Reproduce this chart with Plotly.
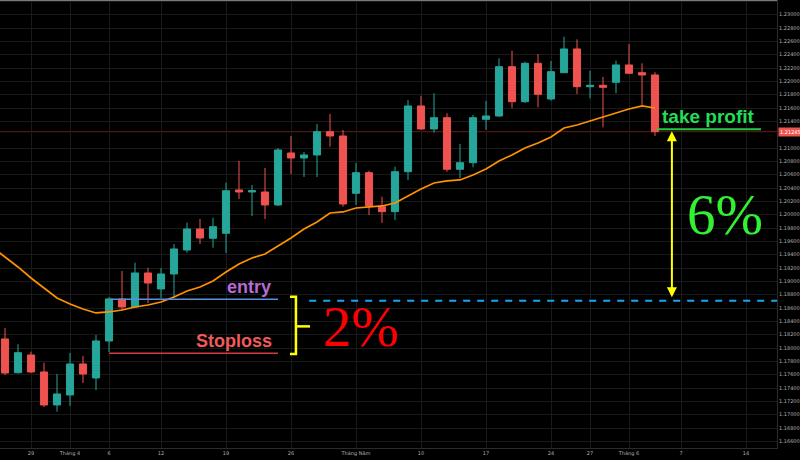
import plotly.graph_objects as go
import pandas as pd

# ---------------- data (EUR/USD daily) ----------------
dates = ["2021-03-25", "2021-03-26", "2021-03-29", "2021-03-30", "2021-03-31",
         "2021-04-01", "2021-04-02", "2021-04-05", "2021-04-06", "2021-04-07",
         "2021-04-08", "2021-04-09", "2021-04-12", "2021-04-13", "2021-04-14",
         "2021-04-15", "2021-04-16", "2021-04-19", "2021-04-20", "2021-04-21",
         "2021-04-22", "2021-04-23", "2021-04-26", "2021-04-27", "2021-04-28",
         "2021-04-29", "2021-04-30", "2021-05-03", "2021-05-04", "2021-05-05",
         "2021-05-06", "2021-05-07", "2021-05-10", "2021-05-11", "2021-05-12",
         "2021-05-13", "2021-05-14", "2021-05-17", "2021-05-18", "2021-05-19",
         "2021-05-20", "2021-05-21", "2021-05-24", "2021-05-25", "2021-05-26",
         "2021-05-27", "2021-05-28", "2021-05-31", "2021-06-01", "2021-06-02",
         "2021-06-03"]

open_ = [1.18136, 1.17630, 1.17896, 1.17641, 1.17146, 1.17296, 1.17761, 1.17551, 1.18106, 1.18736,
         1.18616, 1.19126, 1.18886, 1.19111, 1.19471, 1.19786, 1.19646, 1.19721, 1.20371, 1.20341,
         1.20341, 1.20146, 1.20926, 1.20851, 1.20896, 1.21245, 1.21181, 1.20321, 1.20630, 1.20120,
         1.20045, 1.20645, 1.21631, 1.21286, 1.21455, 1.20681, 1.20780, 1.21431, 1.21481, 1.22220,
         1.21695, 1.22271, 1.21736, 1.22130, 1.22486, 1.21920, 1.21941, 1.21986, 1.22246, 1.22130,
         1.22096]
high = [1.18300, 1.18056, 1.17945, 1.17780, 1.17611, 1.17926, 1.17881, 1.18196, 1.18766, 1.19156,
        1.19280, 1.19205, 1.19200, 1.19561, 1.19880, 1.19936, 1.19955, 1.20480, 1.20806, 1.20446,
        1.20701, 1.21001, 1.21181, 1.20941, 1.21361, 1.21511, 1.21271, 1.20776, 1.20660, 1.20270,
        1.20720, 1.21721, 1.21785, 1.21821, 1.21521, 1.21061, 1.21496, 1.21706, 1.22346, 1.22460,
        1.22295, 1.22411, 1.22306, 1.22670, 1.22631, 1.22160, 1.22066, 1.22310, 1.22561, 1.22271,
        1.22136]
low = [1.17596, 1.17618, 1.17626, 1.17116, 1.17045, 1.17131, 1.17476, 1.17371, 1.17941, 1.18571,
       1.18608, 1.18676, 1.18751, 1.18751, 1.19430, 1.19561, 1.19505, 1.19426, 1.20236, 1.19981,
       1.19936, 1.20131, 1.20611, 1.20566, 1.20566, 1.21020, 1.20120, 1.20146, 1.19996, 1.19876,
       1.19921, 1.20521, 1.21271, 1.21230, 1.20645, 1.20551, 1.20711, 1.21271, 1.21466, 1.21596,
       1.21676, 1.21611, 1.21711, 1.22126, 1.21811, 1.21746, 1.21311, 1.21821, 1.22111, 1.21646,
       1.21181]
close = [1.17626, 1.17930, 1.17641, 1.17146, 1.17311, 1.17761, 1.17611, 1.18106, 1.18736, 1.18616,
         1.19126, 1.18976, 1.19111, 1.19486, 1.19786, 1.19651, 1.19820, 1.20360, 1.20341, 1.20360,
         1.20146, 1.20971, 1.20851, 1.20896, 1.21245, 1.21181, 1.20161, 1.20630, 1.20131, 1.20045,
         1.20645, 1.21631, 1.21286, 1.21455, 1.20681, 1.20780, 1.21455, 1.21481, 1.22220, 1.21695,
         1.22271, 1.21806, 1.22145, 1.22486, 1.21920, 1.21941, 1.21911, 1.22246, 1.22121, 1.22096,
         1.21245]

# moving average (orange), first value belongs to the trading day before dates[0]
ma_values = [1.19516, 1.19366, 1.19216, 1.19051, 1.18901, 1.18751, 1.18661, 1.18586, 1.18526, 1.18541,
             1.18571, 1.18616, 1.18646, 1.18691, 1.18766, 1.18856, 1.18916, 1.19006, 1.19141, 1.19261,
             1.19351, 1.19411, 1.19531, 1.19651, 1.19786, 1.19891, 1.20026, 1.20041, 1.20101, 1.20116,
             1.20131, 1.20176, 1.20281, 1.20386, 1.20476, 1.20506, 1.20521, 1.20596, 1.20686, 1.20806,
             1.20896, 1.21001, 1.21076, 1.21166, 1.21301, 1.21346, 1.21406, 1.21466, 1.21526, 1.21586,
             1.21631, 1.21601]

tick_dates = ["2021-03-29", "2021-04-01", "2021-04-06", "2021-04-12", "2021-04-19", "2021-04-26",
              "2021-05-03", "2021-05-10", "2021-05-17", "2021-05-24", "2021-05-27", "2021-06-01",
              "2021-06-07", "2021-06-14"]
tick_text = ["29", "Tháng 4", "6", "12", "19", "26", "Tháng Năm", "10", "17", "24", "27",
             "Tháng 6", "7", "14"]

price_ticks = [1.166, 1.168, 1.170, 1.172, 1.174, 1.176, 1.178, 1.180, 1.182, 1.184, 1.186,
               1.188, 1.190, 1.192, 1.194, 1.196, 1.198, 1.200, 1.202, 1.204, 1.206, 1.208,
               1.210, 1.214, 1.216, 1.218, 1.220, 1.222, 1.224, 1.226, 1.228, 1.230, 1.232]

entry_level = 1.18730
stoploss_level = 1.17920
take_profit_level = 1.21280
last_price = 1.21245

# ---------------- helpers ----------------
calendar = list(pd.bdate_range("2021-03-24", "2021-06-25").strftime("%Y-%m-%d"))
base = calendar.index(dates[0])
x_idx = [calendar.index(d) - base for d in dates]
ma_x = list(range(x_idx[0] - 1, x_idx[-1] + 1))
tick_vals = [calendar.index(d) - base for d in tick_dates]

TEAL = "#26a69a"
RED = "#ef5350"
GRID = "#1a1a1a"
X0, X1 = -0.385, 59.385
Y0, Y1 = 1.165005, 1.232205

fig = go.Figure()
fig.add_trace(go.Candlestick(
    x=x_idx, open=open_, high=high, low=low, close=close,
    increasing=dict(line=dict(color=TEAL, width=1), fillcolor=TEAL),
    decreasing=dict(line=dict(color=RED, width=1), fillcolor=RED),
    whiskerwidth=0, hoverinfo="skip"))
fig.add_trace(go.Scatter(x=ma_x, y=ma_values, mode="lines",
                         line=dict(color="#ff9200", width=1.7), hoverinfo="skip"))

shapes = [
    # last price line
    dict(type="line", xref="paper", x0=0, x1=1, yref="y", y0=last_price, y1=last_price,
         line=dict(color="#6b1c1c", width=1), layer="below"),
    # entry line
    dict(type="line", x0=8.1, x1=21.0, y0=entry_level, y1=entry_level,
         line=dict(color="#5b8fdc", width=1.5)),
    # stoploss line
    dict(type="line", x0=8.0, x1=21.0, y0=stoploss_level, y1=stoploss_level,
         line=dict(color="#d63a3a", width=1.5)),
    # dashed entry extension
    dict(type="line", x0=23.4, x1=X1, y0=entry_level - 0.0002, y1=entry_level - 0.0002,
         line=dict(color="#1ea4ea", width=2, dash="7px,7px")),
    # take profit line
    dict(type="line", x0=50.15, x1=58.15, y0=take_profit_level, y1=take_profit_level,
         line=dict(color="#22cc44", width=2)),
    # yellow bracket
    dict(type="path",
         path=f"M 21.92 {entry_level + 0.0004} L 22.38 {entry_level + 0.0004} "
              f"L 22.38 {stoploss_level - 0.0001} L 21.92 {stoploss_level - 0.0001}",
         line=dict(color="#ffff00", width=2.5)),
    dict(type="line", x0=22.38, x1=23.46,
         y0=(entry_level + stoploss_level) / 2, y1=(entry_level + stoploss_level) / 2,
         line=dict(color="#ffff00", width=2.5)),
    # top border
    dict(type="line", xref="paper", yref="paper", x0=0, x1=1, y0=1, y1=1,
         line=dict(color="#7a7a7a", width=2)),
]

annotations = [
    dict(x=18.77, y=1.18916, text="<b>entry</b>", showarrow=False,
         font=dict(family="Liberation Sans, Arial", size=18, color="#b96ad4")),
    dict(x=17.65, y=1.18110, text="<b>Stoploss</b>", showarrow=False,
         font=dict(family="Liberation Sans, Arial", size=18, color="#ef5a5a")),
    dict(x=54.15, y=1.21466, text="<b>take profit</b>", showarrow=False,
         font=dict(family="Liberation Sans, Arial", size=19, color="#22dd55")),
    dict(x=27.42, y=1.18316, text="2%", showarrow=False,
         font=dict(family="Liberation Serif, Times New Roman", size=57, color="#ff0000")),
    dict(x=55.35, y=1.19996, text="6%", showarrow=False,
         font=dict(family="Liberation Serif, Times New Roman", size=57, color="#33f033")),
    # double-headed arrow
    dict(x=51.3, y=take_profit_level - 0.0003, ax=51.3, ay=entry_level + 0.0001,
         xref="x", yref="y", axref="x", ayref="y", text="", showarrow=True,
         arrowhead=2, startarrowhead=2, arrowside="end+start", arrowsize=1,
         arrowwidth=2, arrowcolor="#ffff00"),
    # last price label
    dict(xref="paper", x=1.0, xanchor="left", y=last_price, text=f"{last_price:.5f}",
         showarrow=False, bgcolor=RED, borderpad=1, xshift=1,
         font=dict(family="DejaVu Sans", size=5, color="#ffffff")),
]

fig.update_layout(
    width=800, height=460,
    paper_bgcolor="#000000", plot_bgcolor="#000000",
    margin=dict(l=0, r=23, t=0, b=12),
    showlegend=False, boxgap=0.22,
    shapes=shapes, annotations=annotations,
    xaxis=dict(range=[X0, X1], tickvals=tick_vals, ticktext=tick_text,
               showgrid=True, gridcolor=GRID, gridwidth=1, zeroline=False,
               tickfont=dict(family="DejaVu Sans", size=5, color="#b0b0b0"),
               ticks="", showline=True, linecolor="#2b2b2b",
               rangeslider=dict(visible=False), fixedrange=True),
    yaxis=dict(range=[Y0, Y1], side="right", tickvals=price_ticks, tickformat=".5f",
               showgrid=True, gridcolor=GRID, gridwidth=1, zeroline=False,
               tickfont=dict(family="DejaVu Sans", size=5, color="#b0b0b0"),
               ticks="", showline=True, linecolor="#2b2b2b"),
)

fig.write_html("out.html")
